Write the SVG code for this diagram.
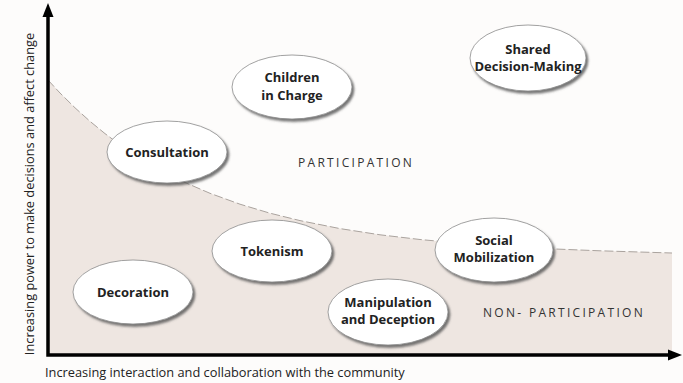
<svg xmlns="http://www.w3.org/2000/svg" width="683" height="383" viewBox="0 0 683 383">
<defs>
<filter id="sh" x="-20%" y="-20%" width="140%" height="150%">
<feDropShadow dx="2" dy="2.5" stdDeviation="1.2" flood-color="#555" flood-opacity="0.8"/>
</filter>
</defs>
<style>
.node ellipse{fill:#fff;stroke:#8a8a8a;stroke-width:0.8;filter:url(#sh)}
.node text{font-family:"Open Sans","Liberation Sans",sans-serif;font-weight:bold;font-size:13px;fill:#222;text-anchor:middle}
.zone{font-family:"Open Sans","Liberation Sans",sans-serif;font-size:12px;fill:#333;letter-spacing:2.3px}
.axlabel{font-family:"Open Sans","Liberation Sans",sans-serif;font-size:12.8px;fill:#222}
.axis{stroke:#000;stroke-width:3.5;fill:none}
</style>
<rect width="683" height="383" fill="#fdfcfb"/>
<path d="M48,80 L60,93 L75,107.8 L90,121.3 L105,133.6 L120,144.8 L140,158 L160,169.7 L185,182.5 L210,193.3 L240,204.2 L270,213.2 L300,220.6 L340,228.6 L380,234.8 L420,239.5 L460,243.2 L500,246.1 L550,248.8 L600,250.8 L672,253 L672,355 L48,355 Z" fill="#eee6e1"/>
<path d="M48,80 L60,93 L75,107.8 L90,121.3 L105,133.6 L120,144.8 L140,158 L160,169.7 L185,182.5 L210,193.3 L240,204.2 L270,213.2 L300,220.6 L340,228.6 L380,234.8 L420,239.5 L460,243.2 L500,246.1 L550,248.8 L600,250.8 L672,253" fill="none" stroke="#aaa39e" stroke-width="1" stroke-dasharray="9 3"/>
<g id="connectors">
<path class="axis" d="M48,14 L48,355 L669,355"/>
<polygon points="48,3 42.5,17 53.5,17" fill="#000"/>
<polygon points="682,355 668,349.5 668,360.5" fill="#000"/>
</g>
<text class="zone" x="298" y="167">PARTICIPATION</text>
<text class="zone" x="483" y="317">NON- PARTICIPATION</text>
<text class="axlabel" x="45" y="377">Increasing interaction and collaboration with the community</text>
<text class="axlabel" transform="translate(34,194) rotate(-90)" text-anchor="middle">Increasing power to make decisions and affect change</text>
<g id="shared" class="node"><ellipse cx="528" cy="58" rx="58" ry="33"/><text x="528" y="54">Shared</text><text x="528" y="71">Decision-Making</text></g>
<g id="children" class="node"><ellipse cx="292" cy="87" rx="60" ry="32"/><text x="292" y="82">Children</text><text x="292" y="100">in Charge</text></g>
<g id="consultation" class="node"><ellipse cx="167" cy="152" rx="60" ry="31"/><text x="167" y="157">Consultation</text></g>
<g id="tokenism" class="node"><ellipse cx="272" cy="251" rx="60" ry="31"/><text x="272" y="256">Tokenism</text></g>
<g id="social" class="node"><ellipse cx="494" cy="250" rx="59" ry="32"/><text x="494" y="245">Social</text><text x="494" y="262">Mobilization</text></g>
<g id="decoration" class="node"><ellipse cx="133" cy="292" rx="60" ry="32"/><text x="133" y="297">Decoration</text></g>
<g id="manipulation" class="node"><ellipse cx="388" cy="312" rx="60" ry="33"/><text x="388" y="307">Manipulation</text><text x="388" y="324">and Deception</text></g>
</svg>
